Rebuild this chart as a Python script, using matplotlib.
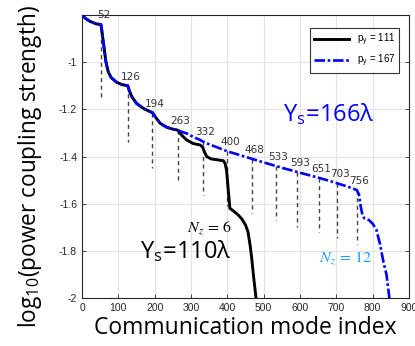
import numpy as np
import matplotlib
matplotlib.use("Agg")
import matplotlib.pyplot as plt

# ---- data ----
shared_x = [0, 10, 22, 40, 52, 55, 60, 66, 72, 80, 95, 110, 126, 130, 137, 150, 169,
            182, 194, 201, 215, 233, 250, 263]
shared_y = [-0.800, -0.815, -0.827, -0.838, -0.840, -0.870, -0.930, -1.000, -1.040,
            -1.065, -1.085, -1.095, -1.100, -1.120, -1.146, -1.175, -1.196,
            -1.206, -1.214, -1.230, -1.259, -1.276, -1.284, -1.288]

blue_tail_x = [275, 288, 305, 325, 332, 343, 370, 400, 430, 468, 500, 533, 560, 593,
               620, 651, 680, 703, 730, 756, 762, 767, 772, 777, 790, 800, 810, 820,
               830, 838, 846]
blue_tail_y = [-1.296, -1.302, -1.316, -1.330, -1.336, -1.344, -1.360, -1.378, -1.392,
               -1.410, -1.425, -1.440, -1.452, -1.466, -1.477, -1.490, -1.503, -1.514,
               -1.527, -1.542, -1.560, -1.610, -1.650, -1.662, -1.670, -1.685, -1.710,
               -1.770, -1.850, -1.900, -2.000]

black_tail_x = [274, 288, 306, 325, 332, 337, 343, 355, 389, 394, 398, 403, 407, 416,
                428, 440, 450, 457, 463, 467, 473, 479]
black_tail_y = [-1.309, -1.330, -1.345, -1.351, -1.360, -1.380, -1.400, -1.410, -1.418,
                -1.430, -1.460, -1.550, -1.620, -1.630, -1.645, -1.665, -1.690, -1.720,
                -1.780, -1.830, -1.920, -2.000]

modes = [52, 126, 194, 263, 332, 400, 468, 533, 593, 651, 703, 756]
mode_bottoms = [-1.16, -1.337, -1.449, -1.51, -1.563, -1.61, -1.638, -1.67, -1.70,
                -1.72, -1.745, -1.77]

xticks = [0, 100, 200, 300, 400, 500, 600, 700, 800, 900]
yticks = [-2, -1.8, -1.6, -1.4, -1.2, -1]
ytick_labels = ["-2", "-1.8", "-1.6", "-1.4", "-1.2", "-1"]

# ---- figure ----
plt.rcParams["mathtext.fontset"] = "stix"
fig = plt.figure(figsize=(4.15, 3.46), dpi=100)
ax = fig.add_axes([82 / 415, 48 / 346, 327 / 415, 283 / 346])

bx = np.array(shared_x + blue_tail_x, dtype=float)
by = np.array(shared_y + blue_tail_y, dtype=float)
kx = np.array(shared_x + black_tail_x, dtype=float)
ky = np.array(shared_y + black_tail_y, dtype=float)

ax.grid(True, color="#e3e3e3", linewidth=0.8, zorder=0)

# dashed mode markers
for m, b in zip(modes, mode_bottoms):
    top = np.interp(m, bx, by)
    ax.plot([m, m], [top, b], color="#444444", linestyle=(0, (3, 2.5)),
            linewidth=1.0, zorder=2)
    ax.text(m + 7, top + 0.038, str(m), ha="center", va="center",
            fontsize=7.5, color="#333333", family="DejaVu Sans", zorder=4)

ax.plot(kx, ky, color="black", linewidth=2.1, label="p$_\\mathregular{y}$ = 111", zorder=3)
ax.plot(bx, by, color="#0000ff", linewidth=1.9, linestyle=(0, (4, 1, 1, 1)),
        label="p$_\\mathregular{y}$ = 167", zorder=3)

ax.set_xlim(0, 900)
ax.set_ylim(-2, -0.8)
ax.set_xticks(xticks)
ax.set_yticks(yticks)
ax.set_yticklabels(ytick_labels)
ax.tick_params(direction="in", length=3, width=0.6, labelsize=7.5,
               colors="#262626", top=False, right=True)
for lab in ax.get_xticklabels() + ax.get_yticklabels():
    lab.set_family("Liberation Sans")
for s in ax.spines.values():
    s.set_linewidth(0.8)
    s.set_color("#262626")

ax.set_xlabel("Communication mode index", fontsize=16.5, family="Open Sans", labelpad=2)
fig.text(30 / 415, 1 - 167 / 346, "log$_\\mathregular{10}$(power coupling strength)",
         fontsize=16.3, family="Open Sans", rotation=90, ha="center", va="center")

leg = ax.legend(loc="upper right", frameon=True, fancybox=False,
                edgecolor="black", handlelength=3.6, borderpad=0.4,
                labelspacing=0.5, bbox_to_anchor=(0.985, 0.97),
                prop={"family": "Liberation Sans", "size": 7})
leg.get_frame().set_linewidth(0.8)

ax.text(553, -1.224, "Y$_\\mathregular{s}$=166λ", color="#0000ff", fontsize=17,
        family="Open Sans", va="center", ha="left")
ax.text(160, -1.805, "Y$_\\mathregular{s}$=110λ", color="black", fontsize=17,
        family="Open Sans", va="center", ha="left")
ax.text(289, -1.70, "$N_z$ = 6", color="black", fontsize=11.5, va="center", ha="left",
        family="STIXGeneral")
ax.text(652, -1.83, "$N_z$ = 12", color="#1f9bff", fontsize=11.5, va="center", ha="left",
        family="STIXGeneral")

fig.savefig("out.png", dpi=100)
